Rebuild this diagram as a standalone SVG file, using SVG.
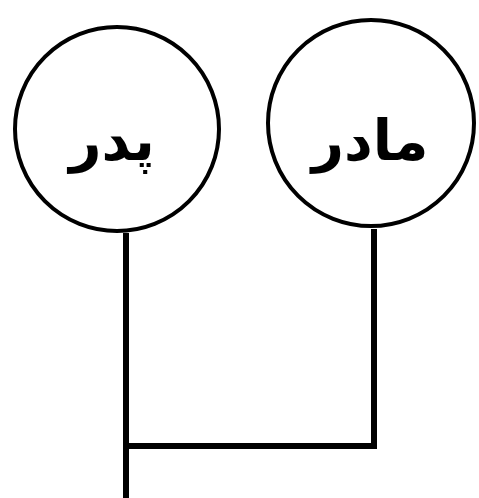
<svg xmlns="http://www.w3.org/2000/svg" width="479" height="498" viewBox="0 0 479 498">
<style>
.node{fill:none;stroke:#000;stroke-width:4}
.link{fill:none;stroke:#000;stroke-width:6;stroke-linecap:butt;stroke-linejoin:miter}
.lbl{font-family:"DejaVu Sans","Noto Sans",sans-serif;font-weight:bold;font-size:56px;fill:#000;text-anchor:middle}
</style>
<rect width="479" height="498" fill="#fff"/>
<g id="connectors">
<path class="link" d="M126,233 V498"/>
<path class="link" d="M374,229 V446 H126"/>
</g>
<g id="node-left">
<circle class="node" cx="117" cy="129" r="102"/>
<text class="lbl" x="112" y="160" direction="rtl">پدر</text>
</g>
<g id="node-right">
<circle class="node" cx="371" cy="123" r="103"/>
<text class="lbl" x="370" y="160" direction="rtl">مادر</text>
</g>
</svg>
